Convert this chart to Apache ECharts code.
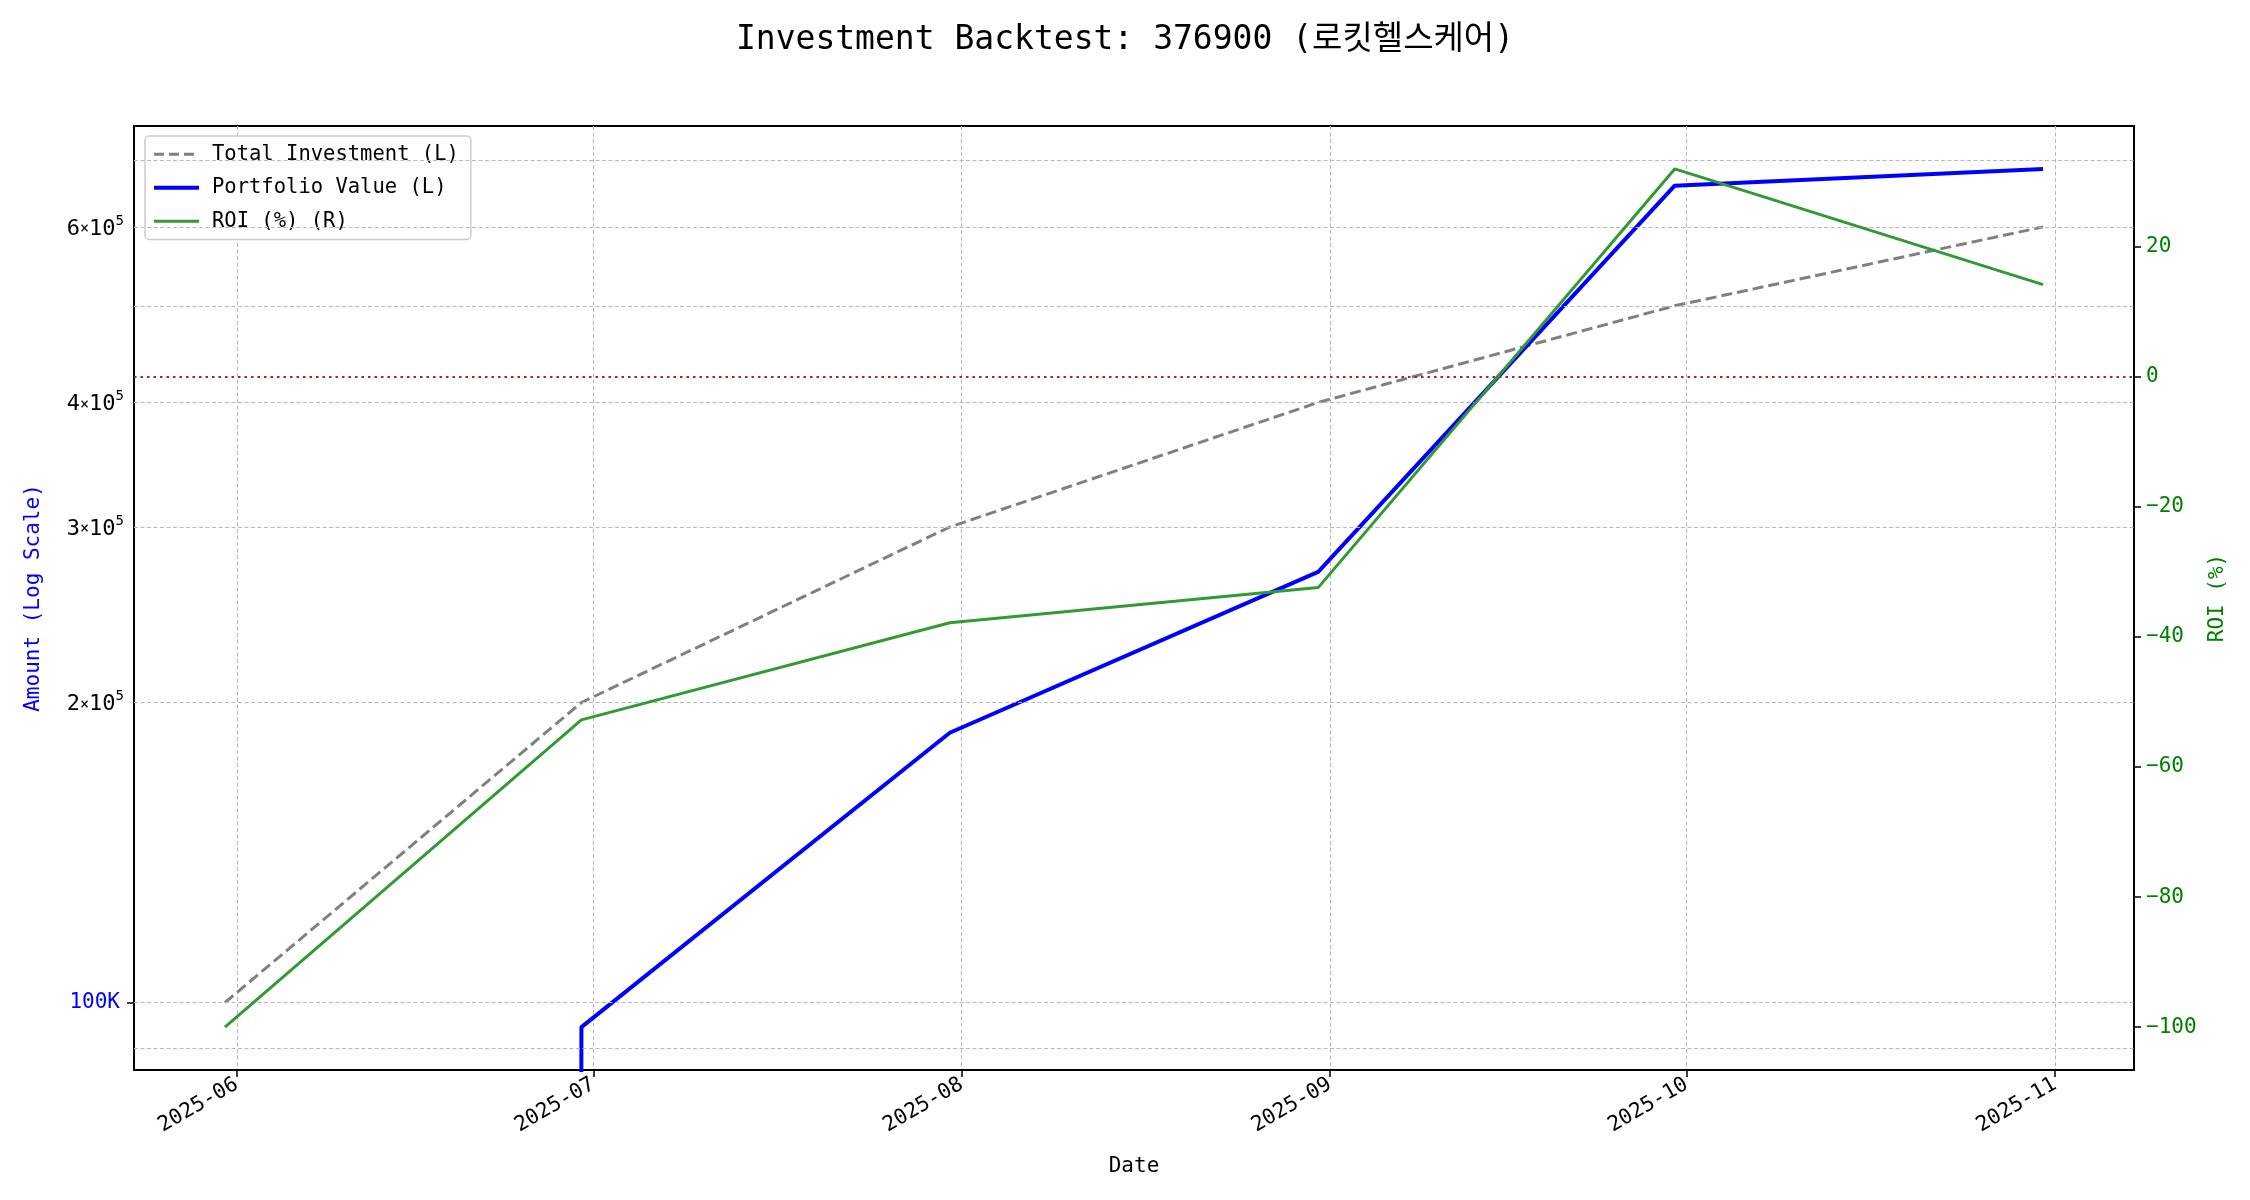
<!DOCTYPE html>
<html>
<head>
<meta charset="utf-8">
<script src="https://cdn.jsdelivr.net/npm/echarts@6/dist/echarts.min.js"></script>
<style>
html,body{margin:0;padding:0;background:#fff;}
#chart{width:2250px;height:1200px;}
</style>
</head>
<body>
<div id="chart"></div>
<script>
// ---- data ----
const dates = ['2025-05-31', '2025-06-30', '2025-07-31', '2025-08-31', '2025-09-30', '2025-10-31'];
const totalInvestment = [100000, 200000, 300000, 400000, 500000, 600000];
const portfolioValue = [0, 94500, 186500, 270500, 660000, 686000];
const roiPct = [-100, -52.75, -37.8, -32.4, 32.0, 14.2];
const amountGridValues = [90000, 100000, 200000, 300000, 400000, 500000, 600000, 700000];
const amountLabelValues = [200000, 300000, 400000, 600000];
const amountLabelMantissa = ['2', '3', '4', '6'];
const amountLabelExponent = '5';

const FONT = '"DejaVu Sans Mono", "Noto Sans CJK KR", monospace';
const ts = dates.map(d => Date.parse(d + 'T00:00:00Z'));

// matplotlib-like 5% margins
const tSpan = ts[ts.length - 1] - ts[0];
const xMin = ts[0] - 0.05 * tSpan, xMax = ts[ts.length - 1] + 0.05 * tSpan;
const pos = portfolioValue.concat(totalInvestment).filter(v => v > 0);
const lLo = Math.log10(Math.min(...pos)), lHi = Math.log10(Math.max(...pos));
const lPad = 0.05 * (lHi - lLo);
const yMin = Math.pow(10, lLo - lPad), yMax = Math.pow(10, lHi + lPad);
const rLo = Math.min(...roiPct), rHi = Math.max(...roiPct);
const rPad = 0.05 * (rHi - rLo);
const rMin = rLo - rPad, rMax = rHi + rPad;

// non-positive values clipped to a tiny positive number as matplotlib's log scale does
const clipPos = v => v > 0 ? v : 1e-300;

const chart = echarts.init(document.getElementById('chart'), null, {renderer: 'canvas'});

const gridLineStyle = {color: '#b8b8b8', width: 1, type: [4, 2.5]};

const C_GRAY = '#808080', C_BLUE = '#0000ff', C_GREEN = '#339933';

const option = {
  animation: false,
  useUTC: true,
  backgroundColor: '#ffffff',
  textStyle: {fontFamily: FONT},
  title: {
    text: 'Investment Backtest: 376900 (로킷헬스케어)',
    left: 'center', top: 19,
    textStyle: {fontFamily: FONT, fontSize: 33, fontWeight: 'normal', color: '#000'}
  },
  grid: {left: 134, right: 116, top: 126, bottom: 130, show: true, borderColor: '#000', borderWidth: 2, backgroundColor: 'transparent'},
  legend: {
    data: [
      {name: 'Total Investment (L)', lineStyle: {color: C_GRAY, width: 3, type: [10, 5]}},
      {name: 'Portfolio Value (L)', lineStyle: {color: C_BLUE, width: 4}},
      {name: 'ROI (%) (R)', lineStyle: {color: C_GREEN, width: 3}}
    ],
    orient: 'vertical', left: 145, top: 136,
    itemWidth: 45, itemHeight: 20, itemGap: 13,
    padding: [8, 12, 8, 7],
    itemStyle: {opacity: 0},
    backgroundColor: '#ffffff', borderColor: '#cccccc', borderWidth: 1.5, borderRadius: 4,
    textStyle: {fontFamily: FONT, fontSize: 20.5, color: '#000', padding: [0, 0, 0, 8]}
  },
  xAxis: {
    type: 'time', min: xMin, max: xMax, splitNumber: 6,
    name: 'Date', nameLocation: 'middle', nameGap: 86,
    nameTextStyle: {fontFamily: FONT, fontSize: 21, color: '#000'},
    axisLine: {show: true, onZero: false, lineStyle: {color: '#000', width: 2}},
    axisTick: {show: true, length: 7, lineStyle: {color: '#000', width: 1.5}},
    axisLabel: {
      formatter: '{yyyy}-{MM}', rotate: 30, margin: 13,
      showMinLabel: false, showMaxLabel: false,
      fontFamily: FONT, fontSize: 21, color: '#000'
    },
    splitLine: {show: true, lineStyle: gridLineStyle}
  },
  yAxis: [
    {
      type: 'log', logBase: 10, min: yMin, max: yMax, position: 'left',
      name: 'Amount (Log Scale)', nameLocation: 'middle', nameGap: 90,
      nameTextStyle: {fontFamily: FONT, fontSize: 21, color: '#0000ff'},
      axisLine: {show: true, onZero: false, lineStyle: {color: '#000', width: 2}},
      axisTick: {show: true, length: 7, lineStyle: {color: '#000', width: 1.5}},
      axisLabel: {
        showMinLabel: false, showMaxLabel: false,
        formatter: v => (Math.abs(v - 100000) < 1 ? '100K' : ''),
        fontFamily: FONT, fontSize: 21, color: '#0000ff', margin: 14
      },
      splitLine: {show: false}
    },
    {
      type: 'value', min: rMin, max: rMax, splitNumber: 7, position: 'right',
      name: 'ROI (%)', nameLocation: 'middle', nameGap: 72,
      nameTextStyle: {fontFamily: FONT, fontSize: 21, color: '#008000'},
      axisLine: {show: true, onZero: false, lineStyle: {color: '#000', width: 2}},
      axisTick: {show: true, length: 7, lineStyle: {color: '#000', width: 1.5}},
      axisLabel: {
        showMinLabel: false, showMaxLabel: false,
        formatter: v => (v < 0 ? '\u2212' + Math.abs(v) : String(v)),
        fontFamily: FONT, fontSize: 21, color: '#008000', margin: 12
      },
      splitLine: {show: false}
    }
  ],
  series: [
    {
      name: 'amountGrid', type: 'line', yAxisIndex: 0, data: [], z: 1, silent: true,
      markLine: {
        silent: true, symbol: ['none', 'none'], animation: false,
        lineStyle: gridLineStyle,
        label: {show: false},
        data: amountGridValues.map(v => {
          const k = amountLabelValues.indexOf(v);
          return {
            yAxis: v,
            label: k >= 0 ? {
              show: true, position: 'start', distance: 10,
              formatter: '{m|' + amountLabelMantissa[k] + '}{x|×}{m|10}{e|' + amountLabelExponent + '}',
              rich: {
                m: {fontFamily: FONT, fontSize: 22, color: '#000', lineHeight: 26, verticalAlign: 'bottom'},
                x: {fontFamily: FONT, fontSize: 15, color: '#000', lineHeight: 26, verticalAlign: 'bottom', padding: [0, 0, 3, 0]},
                e: {fontFamily: FONT, fontSize: 14, color: '#000', lineHeight: 14, verticalAlign: 'top'}
              }
            } : {show: false}
          };
        })
      }
    },
    {
      name: 'zeroLine', type: 'line', yAxisIndex: 1, data: [], z: 1, silent: true,
      markLine: {
        silent: true, symbol: ['none', 'none'], animation: false,
        lineStyle: {color: '#b52020', width: 2, type: [2.5, 4]},
        label: {show: false},
        data: [{yAxis: 0}]
      }
    },
    {
      name: 'Total Investment (L)', type: 'line', yAxisIndex: 0, z: 3,
      data: ts.map((t, i) => [t, totalInvestment[i]]),
      symbol: 'none', lineStyle: {color: C_GRAY, width: 3, type: [11, 5]},
      itemStyle: {color: C_GRAY}
    },
    {
      name: 'Portfolio Value (L)', type: 'line', yAxisIndex: 0, z: 4,
      data: ts.map((t, i) => [t, clipPos(portfolioValue[i])]),
      symbol: 'none', lineStyle: {color: C_BLUE, width: 4},
      itemStyle: {color: C_BLUE}
    },
    {
      name: 'ROI (%) (R)', type: 'line', yAxisIndex: 1, z: 5,
      data: ts.map((t, i) => [t, roiPct[i]]),
      symbol: 'none', lineStyle: {color: C_GREEN, width: 3},
      itemStyle: {color: C_GREEN}
    }
  ]
};
chart.setOption(option);
</script>
</body>
</html>
